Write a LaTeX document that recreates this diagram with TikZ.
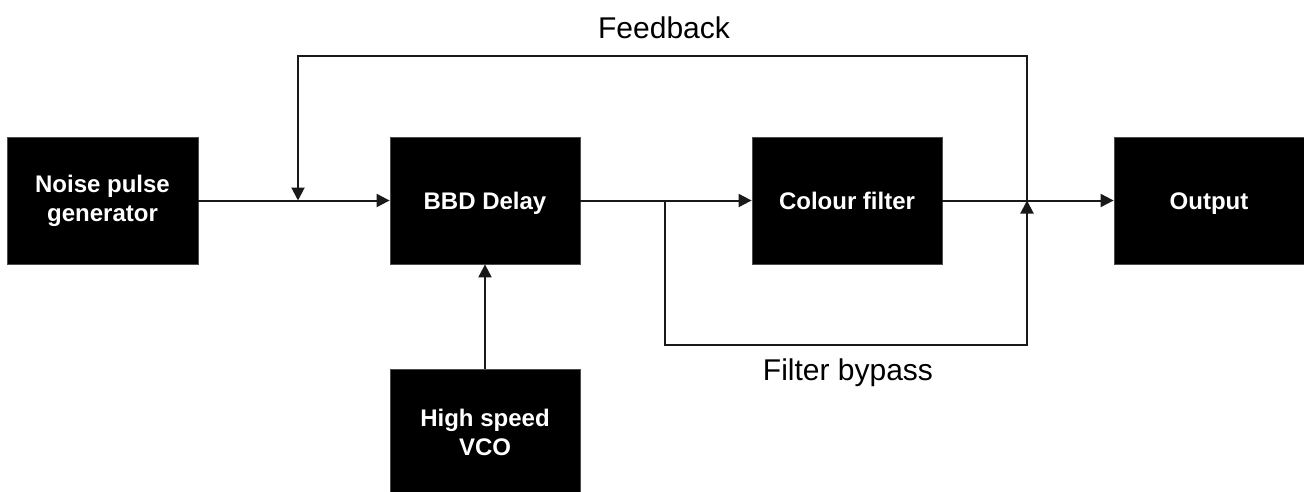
\documentclass[tikz,border=0pt]{standalone}
\usepackage{fontspec}
\setmainfont{Liberation Sans}
\usetikzlibrary{arrows.meta}
\begin{document}
\begin{tikzpicture}[x=1pt,y=-1pt,
  blk/.style={fill=black,draw=black!70,line width=0.8pt,text=white,minimum width=190pt,minimum height=127pt,
    inner sep=0pt,align=center,font=\fontsize{24}{29}\selectfont\bfseries},
  one/.style={text height=17.5pt,text depth=0pt},
  conn/.style={line width=2pt,draw=black!90},
  arr/.style={conn,-{Triangle[length=13pt,width=13pt]}},
  lbl/.style={font=\fontsize{30}{34}\selectfont,anchor=base,inner sep=0pt}]
\useasboundingbox (0,0) rectangle (1304,491);
\begin{scope}
\clip (0,0) rectangle (1304,491);
\node[blk,minimum width=191pt] (noise) at (102.5,200.5) {Noise pulse\\generator};
\node[blk,one] (bbd) at (485,200.5) {BBD Delay};
\node[blk,one] (colour) at (847,200.5) {Colour filter};
\node[blk,one] (out) at (1209,200.5) {Output};
\node[blk] (vco) at (485,432.5) {High speed\\VCO};
\end{scope}
\coordinate (fbin) at (298,200.5);
\coordinate (fbout) at (1027,200.5);
\coordinate (bpout) at (665,200.5);
\draw[arr] (noise.east) -- (bbd.west);
\draw[arr] (bbd.east) -- (colour.west);
\draw[arr] (colour.east) -- (out.west);
\draw[arr] (vco.north) -- (bbd.south);
\draw[arr] (fbout) -- ++(0,-144.5) -| (fbin);
\draw[arr] (bpout) -- ++(0,144.5) -| (fbout);
\node[lbl] (fblbl) at (664,38) {Feedback};
\node[lbl] (bplbl) at (848,380) {Filter bypass};
\end{tikzpicture}
\end{document}
